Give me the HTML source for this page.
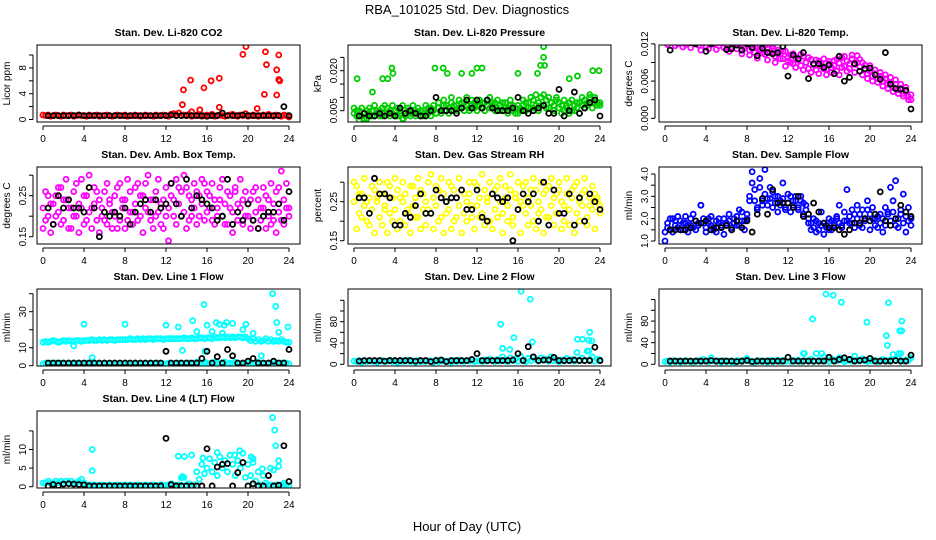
<!DOCTYPE html>
<html><head><meta charset="utf-8"><style>
html,body{margin:0;padding:0;background:#fff}
svg{display:block;font-family:"Liberation Sans",sans-serif}
</style></head><body>
<svg id="chart" width="936" height="540" viewBox="0 0 936 540">
<text x="467" y="14" text-anchor="middle" font-size="13">RBA_101025  Std. Dev. Diagnostics</text>
<text x="467" y="531" text-anchor="middle" font-size="13">Hour of Day (UTC)</text>
</svg>
<script>
// ---- data (colored = quarter-hourly 0..24, black = half-hourly 0.5..24, outliers = [hour,value]) ----
const co2Main=[0.7,0.6,0.7,0.5,0.6,0.7,0.6,0.5,0.7,0.6,0.6,0.7,0.5,0.6,0.7,0.6,0.6,0.5,0.7,0.6,0.6,0.7,0.5,0.6,0.6,0.7,0.6,0.5,0.6,0.7,0.6,0.6,0.7,0.5,0.6,0.6,0.7,0.6,0.5,0.6,0.7,0.6,0.6,0.5,0.7,0.6,0.6,0.7,0.6,0.5,0.8,0.9,0.7,1.0,0.6,0.7,0.6,0.8,0.5,0.6,0.7,0.6,0.5,0.6,0.7,0.6,0.8,0.5,0.6,0.7,0.6,0.5,0.6,0.7,0.8,0.6,0.5,0.7,0.6,0.9,0.5,0.6,0.7,0.6,0.5,0.6,0.7,0.6,0.8,0.6,0.5,0.7,0.6,0.5,0.7,0.6,0.4];
const co2Out=[[13.6,2.3],[13.7,4.6],[14.4,6.1],[14.5,1.2],[15.3,1.5],[15.7,4.9],[16.4,6.0],[17.2,6.4],[17.2,1.9],[19.5,10.1],[19.8,11.3],[20.9,1.7],[21.6,3.9],[21.7,10.5],[21.8,8.5],[22.8,7.7],[22.8,3.8],[23.0,10.0],[23.0,6.2],[23.1,6.0]];
const co2Black=[0.6,0.6,0.6,0.6,0.6,0.6,0.7,0.6,0.6,0.6,0.6,0.6,0.6,0.6,0.6,0.6,0.6,0.6,0.6,0.6,0.6,0.6,0.6,0.6,0.7,0.6,0.6,0.6,0.6,0.6,0.6,0.5,0.6,0.6,1.0,0.6,0.6,0.6,0.7,0.6,0.6,0.6,0.6,0.6,0.6,0.6,2.0,0.6];

const presMain=[0.004,0.003,0.005,0.003,0.004,0.002,0.004,0.005,0.003,0.004,0.005,0.003,0.004,0.006,0.003,0.004,0.005,0.003,0.004,0.002,0.004,0.005,0.003,0.004,0.005,0.004,0.003,0.005,0.004,0.006,0.003,0.005,0.004,0.006,0.005,0.007,0.005,0.006,0.008,0.005,0.007,0.006,0.008,0.005,0.007,0.006,0.009,0.006,0.007,0.007,0.006,0.008,0.009,0.006,0.007,0.008,0.006,0.007,0.005,0.008,0.006,0.007,0.005,0.006,0.004,0.006,0.007,0.005,0.008,0.006,0.009,0.007,0.008,0.010,0.007,0.009,0.006,0.008,0.007,0.009,0.006,0.007,0.005,0.006,0.008,0.005,0.007,0.006,0.008,0.007,0.009,0.008,0.010,0.008,0.009,0.007,0.008];
const presAlt=[0.006,0.005,0.003,0.006,0.002,0.005,0.006,0.003,0.007,0.005,0.003,0.006,0.007,0.004,0.005,0.007,0.003,0.006,0.005,0.007,0.003,0.006,0.004,0.007,0.003,0.006,0.005,0.003,0.007,0.004,0.006,0.007,0.004,0.008,0.004,0.009,0.007,0.004,0.010,0.007,0.005,0.009,0.006,0.008,0.010,0.005,0.007,0.008,0.005,0.009,0.008,0.005,0.007,0.010,0.008,0.005,0.009,0.005,0.008,0.006,0.004,0.009,0.007,0.004,0.007,0.005,0.009,0.008,0.006,0.010,0.006,0.011,0.005,0.007,0.011,0.006,0.010,0.008,0.005,0.010,0.008,0.004,0.009,0.007,0.004,0.009,0.005,0.008,0.004,0.010,0.006,0.007,0.011,0.006,0.010,0.008,0.007];
const presOut=[[0.3,0.017],[0.5,0.0015],[1.8,0.012],[2.8,0.017],[3.3,0.017],[3.7,0.021],[3.8,0.019],[4.8,0.002],[7.9,0.021],[8.7,0.021],[9.1,0.019],[10.5,0.019],[11.5,0.019],[12.0,0.021],[12.5,0.021],[16.0,0.019],[17.9,0.019],[18.2,0.022],[18.5,0.029],[18.5,0.025],[18.6,0.022],[21.0,0.017],[21.8,0.018],[23.3,0.020],[23.9,0.020]];
const presBlack=[0.003,0.004,0.003,0.003,0.004,0.003,0.004,0.003,0.006,0.004,0.005,0.004,0.003,0.003,0.005,0.010,0.005,0.005,0.005,0.004,0.006,0.009,0.006,0.009,0.006,0.009,0.006,0.005,0.005,0.005,0.006,0.010,0.005,0.004,0.005,0.006,0.007,0.004,0.004,0.013,0.003,0.005,0.012,0.004,0.006,0.008,0.009,0.003];

const tempMain=[0.0125,0.0130,0.0122,0.0128,0.0131,0.0120,0.0126,0.0129,0.0119,0.0124,0.0130,0.0121,0.0127,0.0118,0.0125,0.0128,0.0116,0.0124,0.0129,0.0120,0.0126,0.0117,0.0123,0.0128,0.0119,0.0125,0.0115,0.0122,0.0127,0.0118,0.0124,0.0113,0.0120,0.0110,0.0118,0.0106,0.0115,0.0109,0.0119,0.0103,0.0112,0.0107,0.0116,0.0100,0.0110,0.0104,0.0096,0.0108,0.0092,0.0102,0.0088,0.0098,0.0094,0.0085,0.0100,0.0090,0.0080,0.0095,0.0086,0.0078,0.0092,0.0084,0.0096,0.0079,0.0088,0.0082,0.0093,0.0076,0.0089,0.0098,0.0084,0.0092,0.0080,0.0096,0.0087,0.0101,0.0083,0.0090,0.0078,0.0072,0.0085,0.0068,0.0078,0.0064,0.0074,0.0060,0.0070,0.0055,0.0066,0.0050,0.0062,0.0046,0.0055,0.0040,0.0050,0.0035,0.0030];
const tempAlt=[0.0128,0.0119,0.0131,0.0123,0.0117,0.0129,0.0122,0.0115,0.0127,0.0121,0.0114,0.0128,0.0120,0.0126,0.0110,0.0121,0.0127,0.0112,0.0119,0.0126,0.0111,0.0122,0.0127,0.0114,0.0123,0.0108,0.0121,0.0126,0.0112,0.0120,0.0104,0.0117,0.0123,0.0102,0.0113,0.0119,0.0097,0.0112,0.0105,0.0117,0.0094,0.0106,0.0112,0.0090,0.0104,0.0096,0.0108,0.0084,0.0098,0.0090,0.0104,0.0082,0.0094,0.0103,0.0078,0.0090,0.0098,0.0074,0.0088,0.0094,0.0072,0.0088,0.0080,0.0070,0.0092,0.0074,0.0085,0.0095,0.0070,0.0082,0.0100,0.0076,0.0088,0.0102,0.0074,0.0090,0.0095,0.0070,0.0086,0.0064,0.0076,0.0060,0.0072,0.0058,0.0068,0.0052,0.0064,0.0048,0.0058,0.0043,0.0055,0.0040,0.0048,0.0036,0.0044,0.0030,0.0038];
const tempBlack=[0.0110,0.0125,0.0124,0.0123,0.0122,0.0120,0.0124,0.0108,0.0120,0.0123,0.0126,0.0111,0.0112,0.0118,0.0110,0.0120,0.0114,0.0101,0.0113,0.0106,0.0104,0.0106,0.0116,0.0068,0.0102,0.0096,0.0106,0.0064,0.0088,0.0088,0.0082,0.0086,0.0072,0.0100,0.0060,0.0066,0.0088,0.0076,0.0080,0.0081,0.0070,0.0063,0.0106,0.0055,0.0048,0.0047,0.0045,0.0015];

const ambMain=[0.17,0.26,0.20,0.23,0.18,0.25,0.21,0.27,0.19,0.24,0.22,0.17,0.26,0.20,0.23,0.29,0.18,0.25,0.21,0.22,0.27,0.19,0.24,0.20,0.26,0.18,0.23,0.21,0.25,0.17,0.28,0.22,0.24,0.19,0.26,0.21,0.23,0.28,0.20,0.25,0.22,0.30,0.19,0.24,0.26,0.21,0.23,0.17,0.27,0.22,0.25,0.20,0.29,0.23,0.26,0.21,0.27,0.19,0.24,0.22,0.26,0.20,0.23,0.28,0.21,0.25,0.19,0.24,0.22,0.27,0.20,0.23,0.18,0.25,0.21,0.26,0.19,0.22,0.24,0.20,0.23,0.17,0.26,0.21,0.24,0.19,0.22,0.25,0.20,0.18,0.23,0.26,0.21,0.19,0.24,0.22,0.20];
const ambAlt=[0.22,0.19,0.25,0.16,0.23,0.20,0.27,0.18,0.24,0.29,0.17,0.22,0.20,0.28,0.16,0.22,0.25,0.19,0.30,0.17,0.23,0.26,0.16,0.22,0.19,0.28,0.24,0.17,0.20,0.27,0.19,0.24,0.17,0.29,0.21,0.18,0.27,0.19,0.25,0.16,0.28,0.21,0.24,0.17,0.20,0.29,0.18,0.24,0.20,0.14,0.28,0.24,0.18,0.27,0.20,0.30,0.17,0.25,0.20,0.28,0.18,0.25,0.29,0.19,0.26,0.22,0.28,0.18,0.20,0.24,0.29,0.18,0.26,0.22,0.16,0.27,0.23,0.29,0.18,0.26,0.20,0.24,0.19,0.27,0.17,0.22,0.27,0.17,0.24,0.28,0.19,0.16,0.27,0.31,0.18,0.28,0.22];
const ambBlack=[0.22,0.18,0.25,0.22,0.24,0.22,0.22,0.21,0.27,0.22,0.15,0.21,0.20,0.21,0.20,0.22,0.18,0.21,0.23,0.24,0.21,0.24,0.22,0.23,0.28,0.23,0.20,0.29,0.22,0.25,0.24,0.23,0.22,0.19,0.20,0.29,0.18,0.21,0.19,0.23,0.19,0.17,0.20,0.21,0.21,0.23,0.19,0.26];

const rhMain=[0.25,0.29,0.22,0.27,0.24,0.20,0.26,0.23,0.28,0.25,0.21,0.27,0.24,0.30,0.22,0.26,0.23,0.28,0.20,0.25,0.27,0.22,0.29,0.24,0.26,0.21,0.28,0.23,0.25,0.30,0.22,0.26,0.24,0.28,0.21,0.27,0.25,0.23,0.29,0.20,0.26,0.24,0.28,0.22,0.25,0.27,0.21,0.30,0.24,0.26,0.22,0.28,0.25,0.20,0.27,0.23,0.29,0.25,0.22,0.26,0.24,0.28,0.21,0.27,0.23,0.25,0.29,0.22,0.26,0.24,0.20,0.28,0.25,0.23,0.27,0.21,0.29,0.24,0.26,0.22,0.28,0.25,0.20,0.27,0.23,0.26,0.29,0.22,0.25,0.24,0.28,0.21,0.26,0.23,0.27,0.25,0.24];
const rhAlt=[0.30,0.18,0.27,0.21,0.31,0.25,0.19,0.29,0.17,0.26,0.30,0.19,0.23,0.17,0.29,0.20,0.31,0.18,0.26,0.30,0.19,0.23,0.17,0.29,0.21,0.31,0.18,0.27,0.19,0.23,0.32,0.18,0.29,0.20,0.31,0.17,0.22,0.30,0.18,0.28,0.21,0.31,0.17,0.27,0.20,0.30,0.24,0.18,0.29,0.21,0.32,0.19,0.26,0.30,0.18,0.28,0.21,0.31,0.17,0.29,0.20,0.32,0.19,0.26,0.30,0.17,0.24,0.30,0.19,0.28,0.31,0.18,0.22,0.30,0.17,0.28,0.21,0.31,0.19,0.27,0.30,0.18,0.24,0.31,0.19,0.28,0.17,0.30,0.20,0.27,0.31,0.19,0.24,0.29,0.18,0.26,0.22];
const rhBlack=[0.26,0.26,0.22,0.31,0.27,0.27,0.26,0.19,0.19,0.22,0.21,0.24,0.27,0.22,0.22,0.28,0.26,0.25,0.26,0.26,0.28,0.23,0.23,0.28,0.21,0.20,0.27,0.26,0.25,0.26,0.15,0.23,0.27,0.25,0.27,0.20,0.30,0.19,0.28,0.22,0.22,0.27,0.19,0.26,0.20,0.27,0.25,0.23];

const flowMain=[1.4,1.8,1.5,2.0,1.7,1.6,1.9,1.5,1.8,1.7,2.0,1.6,1.9,1.7,2.6,1.8,1.6,2.0,1.7,1.5,1.9,1.8,1.6,2.0,1.7,1.9,1.6,1.8,2.1,1.7,2.3,1.9,2.2,3.0,3.6,2.8,2.4,3.4,2.8,3.1,2.6,2.9,3.2,2.7,3.0,2.6,2.9,2.4,2.7,3.0,2.6,2.8,2.5,3.0,2.7,2.4,2.0,1.8,1.6,1.9,1.5,1.7,1.8,1.6,1.5,1.9,1.7,2.0,1.8,1.7,2.3,1.9,2.1,1.8,2.2,2.0,1.7,2.4,1.9,2.8,2.2,2.0,1.7,2.1,1.8,2.0,2.5,2.2,1.9,2.3,1.7,2.0,2.4,1.8,2.1,1.9,2.0];
const flowAlt=[1.0,1.6,2.0,1.4,1.9,2.1,1.5,1.8,2.1,1.4,1.7,2.2,1.5,1.8,2.6,2.0,1.4,1.8,2.1,1.6,1.4,2.0,1.7,1.3,1.8,2.2,1.5,2.0,1.7,2.4,1.9,1.5,2.0,2.8,4.1,3.3,2.5,3.8,2.6,4.2,2.9,3.4,2.5,3.0,2.3,2.8,3.6,2.5,3.1,2.3,2.8,3.0,2.4,2.8,2.2,2.6,1.8,1.5,2.0,1.4,1.8,2.3,1.3,1.7,2.0,1.5,1.8,2.1,2.6,1.6,1.9,3.3,1.8,2.4,1.6,2.6,2.2,1.6,2.0,2.4,1.5,2.5,2.0,1.6,2.2,1.4,1.7,2.3,3.4,2.8,3.7,1.6,2.2,3.1,1.4,2.5,1.7];
const flowBlack=[1.5,1.5,1.5,1.5,1.6,1.9,1.8,1.9,1.5,1.6,1.6,1.7,1.5,1.9,1.6,1.9,1.4,2.2,2.9,2.2,3.3,2.7,2.7,2.7,2.5,3.0,2.1,2.2,2.7,2.3,1.8,1.6,1.6,1.5,1.3,1.5,1.8,1.8,2.0,1.9,2.2,3.2,1.9,1.7,2.0,2.6,2.3,2.1];

const l1Main=[13,13.5,13,13.5,14,13.5,13,13.5,14,13.5,14,13.5,13.5,14,14,13.5,14,14,14,14.5,14,14,14.5,14,14.5,14,14.5,14.5,14,14.5,14.5,14.5,14.5,14.5,15,14.5,14.5,15,14.5,15,14.5,15,15,14.5,15,15,15,14.5,15,15,15,15,15,15,15,15.5,15,15,15.5,15,15,15.5,15.5,15,15.5,15.5,15,16,15.5,15.5,16,15.5,16,15.5,16,15.5,16,16,15.5,16,15,14,15,13.5,14.5,13.5,14,15,13.5,14.5,13.5,14,13.5,14.5,13.5,13,13];
const l1Low=[1,1.5,1,1.5,1,1.5,1,1.5,1,1,1.5,1,1.5,1,1.5,1,1,1.5,1,1,1.5,1,1,1,1.5,1,1,1,1.5,1,1,1,1.5,1,1,1,1.5,1,1,1,1.5,1,1,1,1,1.5,1,1,1,1.5,1,1,1,1.5,1,1,1,1.5,1,1,2,1.5,1,2,1.5,1,1.5,2,1.5,1,1.5,2,1,1.5,1,2,1.5,1,1.5,1,1,1.5,1,1.5,2,1,1.5,1,1.5,1,1,1.5,1,1.5,1,1.5,1];
const l1Out=[[4.0,23],[8.0,23],[12.0,22.5],[13.2,21.5],[13.6,8.5],[14.6,25],[15.0,19],[15.7,34],[16.0,22.5],[16.9,24],[17.2,23],[17.7,22.5],[17.9,24],[18.5,23.5],[19.5,20],[19.8,23],[21.3,5.5],[22.4,40],[22.7,33],[22.8,24],[23.0,18.5],[23.9,21.5],[15.8,8],[16.5,19],[17.5,18],[20.5,18],[3.0,11],[4.8,4.5]];
const l1Black=[1.5,1.5,1.5,1.5,1.5,1.5,1.5,1.5,1.5,1.5,1.5,1.5,1.5,1.5,1.5,1.5,1.5,1.5,1.5,1.5,1.5,1.5,1.5,8,1.5,1.5,1.5,1.5,1.5,1.5,4,8,1.5,5,1.5,9,5.5,1.5,1.5,2.5,4,1.5,1.5,1.5,2.5,1.5,1.5,9];

const l2Main=[6,5,7,4,6,5,7,6,5,4,6,7,5,6,8,5,6,4,7,5,6,8,5,6,4,7,5,6,5,7,6,4,8,5,6,7,5,6,4,7,5,8,6,5,7,6,9,5,6,7,5,8,6,10,7,5,9,6,14,8,5,12,7,10,6,15,8,5,11,7,13,9,6,12,8,10,6,14,7,9,5,8,6,11,7,9,6,22,8,12,7,25,9,14,6,10,8];
const l2Out=[[14.3,75],[14.5,30],[15.2,28],[15.6,50],[16.3,137],[17.2,122],[17.4,42],[21.8,47],[22.3,47],[22.9,45],[23.0,60],[22.9,25],[23.2,44]];
const l2Black=[6,7,7,7,7,6,7,7,7,7,7,6,7,7,5,7,8,5,7,7,7,7,9,20,7,7,7,7,7,7,8,20,7,33,14,7,8,8,13,7,7,7,8,7,7,7,32,7];

const l3Main=[5,6,4,7,5,6,4,5,7,6,5,4,6,7,5,9,6,5,12,7,5,6,4,7,5,6,5,4,7,6,5,8,11,6,5,4,7,6,5,6,4,7,5,6,8,5,7,6,13,5,7,6,8,5,20,7,6,9,5,20,7,6,14,8,5,10,7,6,12,8,5,7,9,6,15,8,6,10,7,5,6,8,7,5,6,9,7,6,8,18,7,10,20,6,8,7,12];
const l3Out=[[13.6,20],[14.4,84],[15.3,20],[15.7,130],[16.4,128],[17.2,115],[19.7,78],[21.6,53],[21.7,35],[21.8,114],[22.9,62],[23.1,62],[23.1,80],[22.8,20]];
const l3Black=[6,6,6,6,6,6,6,6,7,6,6,6,6,5,6,7,5,6,6,6,6,6,6,13,6,6,6,6,6,6,6,13,6,9,12,9,6,7,8,11,6,6,6,6,7,6,6,17];

const l4Main=[1,1,1.5,1,1,1.5,1,1.5,1,1.5,1,1.5,1,1,1.5,2,1,0.3,0.5,0.3,0.5,0.3,0.3,0.5,0.3,0.3,0.5,0.3,0.3,0.5,0.3,0.3,0.5,0.3,0.5,0.3,0.3,0.5,0.3,0.3,0.5,0.3,0.3,0.5,0.3,0.3,0.5,0.3,0.3,0.5,0.8,0.5,0.3,0.5,0.3,2.5,0.5,0.8,0.3,0.5,4,2,6,3.5,5,7.5,4,6.5,3,8,5,7,4,8.5,6,3,7,5,9,2.5,6,3,7.5,1.5,4,0.5,3,1,0.5,0.3,4.5,0.5,0.3,0.5,1,0.5,0.3];
const l4Out=[[4.8,10],[4.8,4.3],[13.2,8.2],[13.5,2.4],[13.6,2.7],[13.8,8.1],[14.5,8.5],[15.6,7.7],[17.0,9.2],[18.7,8.5],[19.2,9.7],[20.3,8.0],[20.5,6.5],[22.4,18.6],[22.6,15.2],[22.7,11.0],[23.0,7.0],[23.0,5.5],[21.4,4.8],[22.2,5.0]];
const l4Black=[0.2,0.6,0.3,0.7,0.8,0.7,0.6,0.5,0.2,0.2,0.2,0.2,0.2,0.2,0.2,0.2,0.2,0.2,0.2,0.2,0.2,0.2,0.2,13,0.6,0.2,0.2,0.2,0.2,0.2,0.2,10.2,0.2,5.3,6,6.2,0.2,3.8,6.5,0.2,0.8,0.2,0.2,3,0.2,0.4,11,1.4];

const yTicks=[[0,2,4,6,8,10],[0.005,0.010,0.015,0.020,0.025],[0,0.003,0.006,0.009,0.012],[0.15,0.20,0.25,0.30],[0.15,0.20,0.25,0.30],[1,1.5,2,2.5,3,3.5,4],[0,10,20,30,40],[0,20,40,60,80,100,120],[0,20,40,60,80,100,120],[0,5,10,15]];
const yTickLabels=[["0","","4","","8",""],["0.005","","","0.020",""],["0.000","","0.006","","0.012"],["0.15","","0.25",""],["0.15","","0.25",""],["1.0","","2.0","","3.0","","4.0"],["0","10","","30",""],["0","","40","","80","",""],["0","","40","","80","",""],["0","5","10",""]];
const xTicks=[0,4,8,12,16,20,24];

// ---- layout (not data) ----
const NS="http://www.w3.org/2000/svg";
const svg=document.getElementById('chart');
const colX=[37,348,659], rowY=[45,167,289,411], BW=263, BH=77;
const panels=[
 {t:"Stan. Dev. Li-820 CO2",yl:"Licor ppm",c:"#ff0000",ymin:0,y0px:119.5,ypu:6.45,main:[co2Main],out:co2Out,blk:co2Black},
 {t:"Stan. Dev. Li-820 Pressure",yl:"kPa",c:"#00cc00",ymin:0.005,y0px:110.7,ypu:2666,main:[presMain,presAlt],out:presOut,blk:presBlack},
 {t:"Stan. Dev. Li-820 Temp.",yl:"degrees C",c:"#ff00ff",ymin:0,y0px:118.3,ypu:6200,main:[tempMain,tempAlt],out:[],blk:tempBlack},
 {t:"Stan. Dev. Amb. Box Temp.",yl:"degrees C",c:"#ff00ff",ymin:0.15,y0px:236.7,ypu:410,main:[ambMain,ambAlt],out:[],blk:ambBlack},
 {t:"Stan. Dev. Gas Stream RH",yl:"percent",c:"#ffff00",ymin:0.15,y0px:240.7,ypu:390,main:[rhMain,rhAlt],out:[],blk:rhBlack},
 {t:"Stan. Dev. Sample Flow",yl:"ml/min",c:"#0000ff",ymin:1,y0px:241,ypu:22.33,main:[flowMain,flowAlt],out:[],blk:flowBlack},
 {t:"Stan. Dev. Line 1 Flow",yl:"ml/min",c:"#00ffff",ymin:0,y0px:365.7,ypu:1.8,main:[l1Main,l1Low],out:l1Out,blk:l1Black},
 {t:"Stan. Dev. Line 2 Flow",yl:"ml/min",c:"#00ffff",ymin:0,y0px:364.3,ypu:0.533,main:[l2Main],out:l2Out,blk:l2Black},
 {t:"Stan. Dev. Line 3 Flow",yl:"ml/min",c:"#00ffff",ymin:0,y0px:364.3,ypu:0.54,main:[l3Main],out:l3Out,blk:l3Black},
 {t:"Stan. Dev. Line 4 (LT) Flow",yl:"ml/min",c:"#00ffff",ymin:0,y0px:486.7,ypu:3.72,main:[l4Main],out:l4Out,blk:l4Black}
];
function mk(tag,attrs,parent){const e=document.createElementNS(NS,tag);for(const k in attrs)e.setAttribute(k,attrs[k]);(parent||svg).appendChild(e);return e;}
panels.forEach((p,i)=>{
  const bx=colX[i%3], by=rowY[Math.floor(i/3)];
  const g=mk('g',{});
  
  
  const xs=h=>bx+6+h*10.25;
  const ys=v=>p.y0px-(v-p.ymin)*p.ypu;
  const clip=mk('clipPath',{id:'c'+i},g);mk('rect',{x:bx,y:by,width:BW,height:BH},clip);
  const pts=mk('g',{'clip-path':'url(#c'+i+')',fill:'none','stroke-width':1.8},g);
  
  
  p.main.forEach(arr=>arr.forEach((v,k)=>{const c=mk('circle',{cx:xs(k*24/(arr.length-1)),cy:ys(v),r:2.5,stroke:p.c},pts);
    
    }));
  p.out.forEach(o=>{const c=mk('circle',{cx:xs(o[0]),cy:ys(o[1]),r:2.5,stroke:p.c},pts);
    
    });
  p.blk.forEach((v,k)=>{const c=mk('circle',{cx:xs((k+1)*0.5),cy:ys(v),r:2.5,stroke:'#000'},pts);
    
    });
  const box=mk('rect',{x:bx,y:by,width:BW,height:BH,fill:'none',stroke:'#000','stroke-width':1},g);
  
  
  const tt=mk('text',{x:bx+BW/2,y:by-9,'text-anchor':'middle','font-size':10.5,'font-weight':'bold'},g);tt.textContent=p.t;
  
  
  const yl=mk('text',{transform:`translate(${bx-27},${by+BH/2}) rotate(-90)`,'text-anchor':'middle','font-size':10},g);yl.textContent=p.yl;
  
  
  mk('line',{x1:xs(0),x2:xs(24),y1:by+BH+4,y2:by+BH+4,stroke:'#000'},g);
  xTicks.forEach(h=>{mk('line',{x1:xs(h),x2:xs(h),y1:by+BH+4,y2:by+BH+8,stroke:'#000'},g);
    const t=mk('text',{x:xs(h),y:by+BH+20,'text-anchor':'middle','font-size':10},g);t.textContent=h;
    
    });
  const tks=yTicks[i];
  mk('line',{x1:bx-4,x2:bx-4,y1:ys(tks[0]),y2:ys(tks[tks.length-1]),stroke:'#000'},g);
  tks.forEach((v,k)=>{mk('line',{x1:bx-8,x2:bx-4,y1:ys(v),y2:ys(v),stroke:'#000'},g);
    if(yTickLabels[i][k]){const t=mk('text',{transform:`translate(${bx-11},${ys(v)}) rotate(-90)`,'text-anchor':'middle','font-size':10},g);t.textContent=yTickLabels[i][k];
      
      }});
});
</script>
</body></html>
